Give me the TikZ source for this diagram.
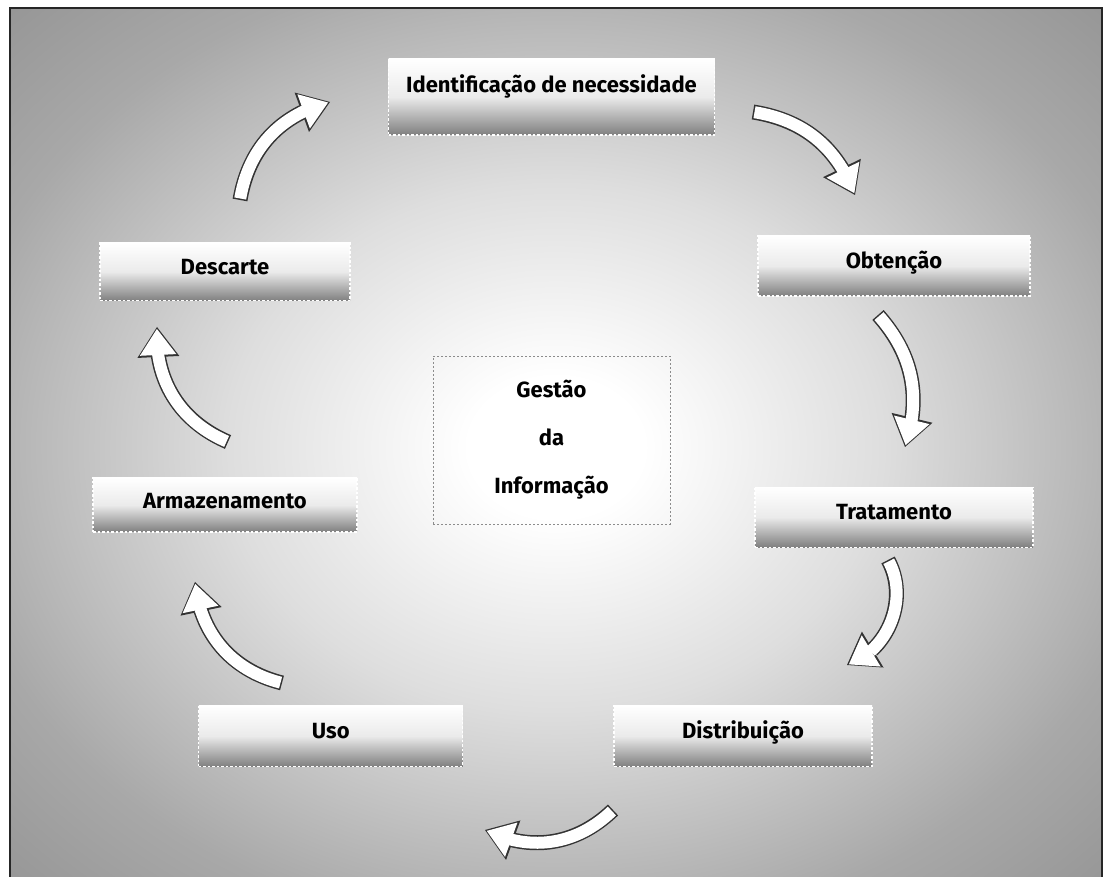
\documentclass[tikz,border=0pt]{standalone}
\usepackage{fontspec}
\setmainfont{Fira Sans}
\usepackage{tikz}
\usetikzlibrary{arrows.meta,bending,positioning}

\pgfdeclareradialshading{bgshade}{\pgfpoint{0bp}{0bp}}{color(0bp)=(white); color(4bp)=(white); color(15bp)=(black!13); color(28bp)=(black!34); color(45bp)=(black!50); color(50bp)=(black!53); color(71bp)=(black!60)}

\tikzset{
    stagebox/.style={draw=white, dash pattern=on 2.5pt off 2pt, line width=1.2pt,
        top color=white, bottom color=black!50, middle color=black!8,
        font=\fontsize{22}{26}\selectfont\bfseries, inner sep=0pt,
        text height=15pt, text depth=10pt, minimum height=60pt},
    centerbox/.style={draw=black!45, dash pattern=on 2pt off 2pt, line width=0.8pt,
        align=center, font=\fontsize{22}{48}\selectfont\bfseries,
        minimum width=237pt, minimum height=168pt},
    arrowrim/.style={draw=black!80, line width=15pt,
        -{Triangle[width=42pt,length=30pt,line width=0pt]}},
    arrowbody/.style={draw=white, line width=12pt,
        -{Triangle[width=36.5pt,length=26pt,line width=0pt]},
        shorten >=2pt, shorten <=1.5pt}
}

\newcommand{\cyclearrow}[3]{%
    \draw[arrowrim] (#1) to[bend left=#3] (#2);
    \draw[arrowbody] (#1) to[bend left=#3] (#2);
}

\begin{document}
\begin{tikzpicture}[x=1pt,y=1pt]
        \useasboundingbox (0,0) rectangle (1106,877);
        \fill[white] (0,0) rectangle (1106,877);
        \shadedraw[shading=bgshade, draw=black!85, line width=2.5pt] (10,-10) rectangle (1102,869);

        \node [centerbox] (info) at (551.5,437) {Gestão\\da\\Informação};

        \node [stagebox, above=220pt of info, minimum width=326pt, minimum height=76pt, text depth=24pt] (ident) {Identificação de necessidade};
        \node [stagebox, minimum width=272pt] (obt) at (894,611) {Obtenção};
        \node [stagebox, below=190pt of obt, minimum width=278pt] (trat) {Tratamento};
        \node [stagebox, minimum width=258pt, minimum height=61pt] (dist) at (743,141) {Distribuição};
        \node [stagebox, left=150pt of dist, minimum width=264pt, minimum height=61pt] (uso) {Uso};
        \node [stagebox, minimum width=264pt, minimum height=54pt, text depth=8pt] (armaz) at (225,372) {Armazenamento};
        \node [stagebox, above=176pt of armaz, minimum width=250pt, minimum height=58pt] (desc) {Descarte};

        % arrow ends
        \coordinate (a1s) at (753,765);
        \coordinate (a1e) at (855,682);
        \coordinate (a2s) at (878,562);
        \coordinate (a2e) at (905,430);
        \coordinate (a3s) at (888,317);
        \coordinate (a3e) at (847,212);
        \coordinate (a4s) at (613,67);
        \coordinate (a4e) at (485,47);
        \coordinate (a5s) at (282,194);
        \coordinate (a5e) at (195,295);
        \coordinate (a6s) at (228,435);
        \coordinate (a6e) at (157,550);
        \coordinate (a7s) at (240,677);
        \coordinate (a7e) at (330,775);

        \cyclearrow{a1s}{a1e}{30}
        \cyclearrow{a2s}{a2e}{30}
        \cyclearrow{a3s}{a3e}{50}
        \cyclearrow{a4s}{a4e}{35}
        \cyclearrow{a5s}{a5e}{35}
        \cyclearrow{a6s}{a6e}{35}
        \cyclearrow{a7s}{a7e}{33}

    \end{tikzpicture}
\end{document}
